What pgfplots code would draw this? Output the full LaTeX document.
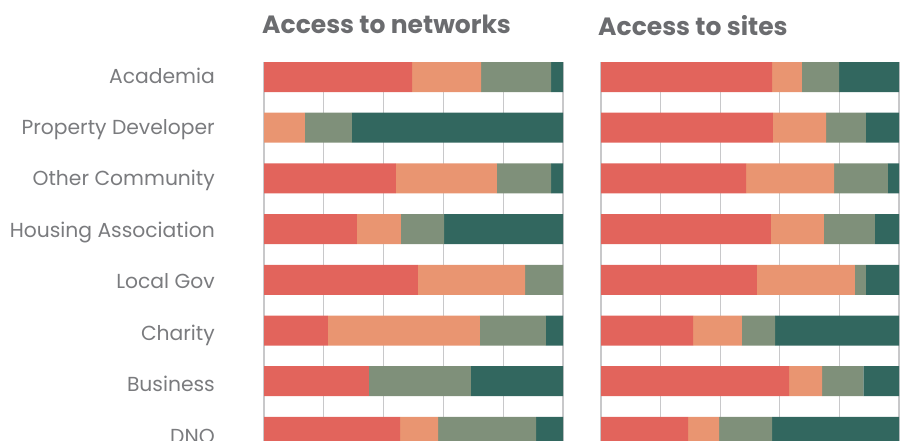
\documentclass[border=0pt]{standalone}
\usepackage{fontspec}
\setmainfont{Poppins}
\usepackage{pgfplots}
\usepackage{pgfplotstable}
\pgfplotsset{compat=1.18}
\definecolor{cred}{HTML}{E2645C}
\definecolor{csal}{HTML}{E99571}
\definecolor{cgrn}{HTML}{7F907A}
\definecolor{ctea}{HTML}{32675F}
\definecolor{gridgray}{HTML}{C8C8CA}
\definecolor{labgray}{HTML}{7A7B7E}
\definecolor{titgray}{HTML}{6B6C6F}
\pgfplotstableread{
idx red sal grn tea
0 49.5 23.1 23.4 4.0
1 0 13.7 15.7 70.6
2 44.1 33.8 18.1 4.0
3 31.1 14.7 14.4 39.8
4 51.5 35.8 12.7 0
5 21.4 50.8 22.1 5.7
6 35.1 0 34.1 30.8
7 45.5 12.7 32.8 9.0
}\networks
\pgfplotstableread{
idx red sal grn tea
0 57.4 10.0 12.5 20.1
1 57.7 17.8 13.4 11.1
2 48.7 29.5 18.1 3.7
3 57.0 17.8 17.1 8.1
4 52.3 32.9 3.7 11.1
5 30.9 16.4 11.1 41.6
6 63.1 11.1 13.8 12.0
7 29.2 10.4 17.8 42.6
}\sites
\pgfplotsset{
  panel/.style={
    anchor=north west,
    y=50.7pt, y dir=reverse,
    xmin=0, xmax=100, ymin=-0.296, ymax=7.8,
    xbar stacked, bar width=30pt,
    axis line style={draw=none},
    tick style={draw=none},
    xtick={0,20,...,100}, xticklabels={},
    xmajorgrids, grid style={draw=gridgray, line width=1.2pt},
    ytick={0,...,7},
    title style={font=\bfseries\fontsize{25}{25}\selectfont, text=titgray, anchor=base west, at={(0,1)}, inner sep=0pt},
  },
}
\begin{document}
\begin{tikzpicture}
\begin{axis}[panel, at={(264pt,-62pt)}, x=2.99pt,
  yticklabels={Academia,Property Developer,Other Community,Housing Association,Local Gov,Charity,Business,DNO},
  yticklabel style={anchor=base east, font=\fontsize{20.3}{20}\selectfont, text=labgray, inner sep=0pt, xshift=-49pt, yshift={-6pt-0.75pt*\ticknum}},
  title={Access to networks},
  title style={xshift=-2pt, yshift=23pt}]
\addplot[fill=cred, draw=none] table[x=red, y=idx] {\networks};
\addplot[fill=csal, draw=none] table[x=sal, y=idx] {\networks};
\addplot[fill=cgrn, draw=none] table[x=grn, y=idx] {\networks};
\addplot[fill=ctea, draw=none] table[x=tea, y=idx] {\networks};
\end{axis}
\begin{axis}[panel, at={(601pt,-62pt)}, x=2.98pt,
  yticklabels={},
  title={Access to sites},
  title style={xshift=-3pt, yshift=21pt}]
\addplot[fill=cred, draw=none] table[x=red, y=idx] {\sites};
\addplot[fill=csal, draw=none] table[x=sal, y=idx] {\sites};
\addplot[fill=cgrn, draw=none] table[x=grn, y=idx] {\sites};
\addplot[fill=ctea, draw=none] table[x=tea, y=idx] {\sites};
\end{axis}
\pgfresetboundingbox
\useasboundingbox (0pt,0pt) rectangle (909pt,-441pt);
\end{tikzpicture}
\end{document}
